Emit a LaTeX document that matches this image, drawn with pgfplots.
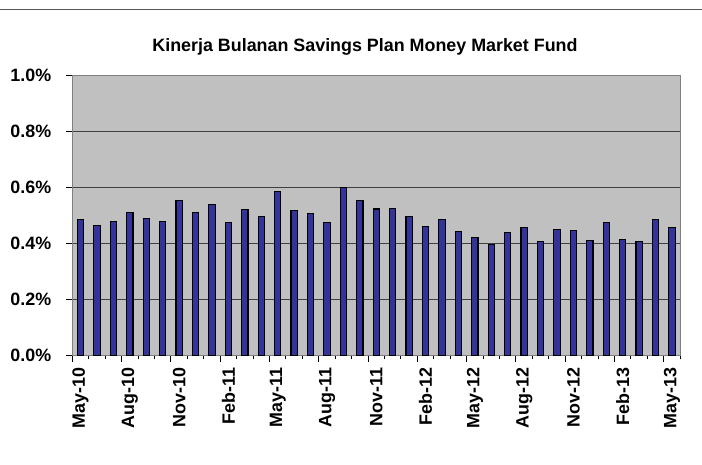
\documentclass[border=0pt]{standalone}
\usepackage{fontspec}
\setmainfont{Liberation Sans}
\usepackage{pgfplots}
\pgfplotsset{compat=1.18}
\definecolor{barblue}{HTML}{333399}
\definecolor{plotbg}{HTML}{C0C0C0}
\definecolor{framegray}{HTML}{808080}
\newcommand{\lblfont}{\fontsize{17.9}{20}\selectfont\bfseries}
\begin{document}
\begin{tikzpicture}
\begin{axis}[
  scale only axis, width=608.7pt, height=281pt,
  xmin=-0.5, xmax=36.5, ymin=0, ymax=1,
  axis background/.style={fill=plotbg},
  axis line style={draw=framegray, line width=1.3pt},
  ytick={0,0.2,0.4,0.6,0.8,1.0},
  yticklabels={0.0\%,0.2\%,0.4\%,0.6\%,0.8\%,1.0\%},
  ymajorgrids,
  major grid style={draw=black!75, line width=1pt},
  xtick={-0.5,2.5,...,35.5},
  xticklabels={},
  minor xtick={-0.5,0.5,...,36.5},
  extra x ticks={0,3,...,36},
  extra x tick labels={May-10,Aug-10,Nov-10,Feb-11,May-11,Aug-11,Nov-11,Feb-12,May-12,Aug-12,Nov-12,Feb-13,May-13},
  extra x tick style={major tick length=0pt, xmajorgrids=false},
  xtick pos=bottom, ytick pos=left,
  tick align=outside,
  major tick length=6pt, minor tick length=3.5pt,
  tick style={draw=black, line width=1pt},
  x tick label style={inner sep=0pt, yshift=-12pt, rotate=90, anchor=east, font=\lblfont},
  y tick label style={inner sep=0pt, xshift=-15pt, anchor=east, font=\lblfont},
]
\addplot[ybar, bar width=6.3pt, fill=barblue, draw=black, line width=1.1pt] coordinates {
(0,0.485) (1,0.465) (2,0.477) (3,0.510) (4,0.490) (5,0.480) (6,0.554) (7,0.510)
(8,0.540) (9,0.476) (10,0.522) (11,0.497) (12,0.587) (13,0.518) (14,0.507) (15,0.476)
(16,0.601) (17,0.555) (18,0.523) (19,0.525) (20,0.496) (21,0.462) (22,0.485) (23,0.443)
(24,0.421) (25,0.396) (26,0.438) (27,0.456) (28,0.406) (29,0.449) (30,0.446) (31,0.412)
(32,0.476) (33,0.414) (34,0.408) (35,0.485) (36,0.456)
};
\coordinate (sw) at (rel axis cs:0,0);
\end{axis}
\path (sw) ++(-72pt,-108.7pt) rectangle ++(702pt,465pt);
\draw[color=black!65, line width=1pt] (sw) ++(-72pt,346.8pt) -- ++(702pt,0pt);
\node[font=\lblfont, inner sep=0pt] at ([shift={(293pt,309.3pt)}]sw) {Kinerja Bulanan Savings Plan Money Market Fund};
\end{tikzpicture}
\end{document}
